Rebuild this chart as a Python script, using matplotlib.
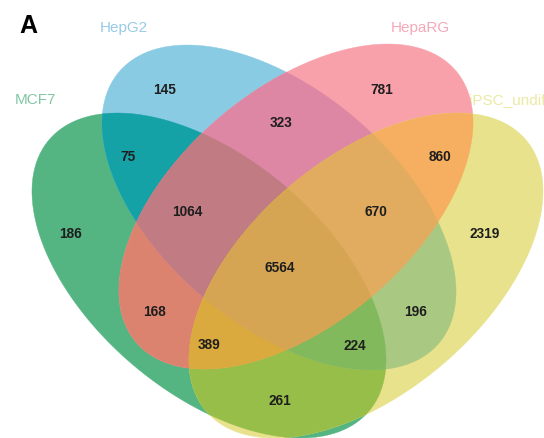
import itertools
import numpy as np
import matplotlib
matplotlib.use("Agg")
import matplotlib.pyplot as plt
from matplotlib.patches import Polygon

# ---- data -------------------------------------------------------------
set_names = ["MCF7", "HepG2", "HepaRG", "iPSC_undiff"]

# region membership (indices into set_names) and gene counts
region_sets = [
    (0,), (1,), (2,), (3,),
    (0, 1), (1, 2), (2, 3), (1, 3), (0, 3), (0, 2),
    (0, 1, 2), (1, 2, 3), (0, 2, 3), (0, 1, 3),
    (0, 1, 2, 3),
]
region_counts = [
    186, 145, 781, 2319,
    75, 323, 860, 196, 261, 168,
    1064, 670, 389, 224,
    6564,
]

# ---- styling ----------------------------------------------------------
region_colors = {
    (0,): "#54B482", (1,): "#8ACBE4", (2,): "#F8A1AB", (3,): "#E7E28B",
    (0, 1): "#14A2A6", (1, 2): "#DE87A4", (2, 3): "#F6AF60",
    (1, 3): "#A9C983", (0, 3): "#97BE49", (0, 2): "#DC8370",
    (0, 1, 2): "#C07B83", (1, 2, 3): "#E2AC60", (0, 2, 3): "#DAAA3E",
    (0, 1, 3): "#82B95D", (0, 1, 2, 3): "#D6A553",
}
label_colors = ["#82C6A3", "#98CBE7", "#F6A8B6", "#ECE9A2"]

# ellipse geometry in canvas pixels (y grows downwards)
centers = [(209.0, 275.5), (279.0, 207.5), (296.0, 206.5), (366.0, 275.5)]
semi_major, semi_minor = 209.7, 117.3
tilts = [40.3, 40.3, -40.3, -40.3]

# where each count is written
count_pos = {
    (0,): (70, 234), (1,): (165, 90), (2,): (382, 90), (3,): (485, 234),
    (0, 1): (128, 157), (1, 2): (281, 123), (2, 3): (440, 157),
    (1, 3): (416, 312), (0, 3): (280, 401), (0, 2): (154, 312),
    (0, 1, 2): (187, 212), (1, 2, 3): (376, 212), (0, 2, 3): (209, 345),
    (0, 1, 3): (355, 346), (0, 1, 2, 3): (280, 268),
}
label_pos = [(35, 100, "center"), (124, 28, "center"),
             (420, 28, "center"), (469, 100, "left")]


def ellipse_points(i, n=1440):
    t = np.linspace(0, 2 * np.pi, n, endpoint=False)
    cx, cy = centers[i]
    th = np.radians(tilts[i])
    x = cx + semi_major * np.cos(t) * np.cos(th) - semi_minor * np.sin(t) * np.sin(th)
    y = cy + semi_major * np.cos(t) * np.sin(th) + semi_minor * np.sin(t) * np.cos(th)
    return np.column_stack([x, y])


def inside(i, pts, tol=1e-9):
    cx, cy = centers[i]
    th = np.radians(tilts[i])
    dx, dy = pts[:, 0] - cx, pts[:, 1] - cy
    u = (dx * np.cos(th) + dy * np.sin(th)) / semi_major
    v = (-dx * np.sin(th) + dy * np.cos(th)) / semi_minor
    return u * u + v * v <= 1 + tol


def intersection_polygon(members):
    pts = []
    for i in members:
        p = ellipse_points(i)
        keep = np.ones(len(p), bool)
        for j in members:
            if j != i:
                keep &= inside(j, p, 1e-6)
        pts.append(p[keep])
    pts = np.vstack(pts)
    c = pts.mean(axis=0)
    order = np.argsort(np.arctan2(pts[:, 1] - c[1], pts[:, 0] - c[0]))
    return pts[order]


fig = plt.figure(figsize=(5.44, 4.38), dpi=100)
ax = fig.add_axes([0, 0, 1, 1])
ax.set_xlim(0, 544)
ax.set_ylim(438, 0)
ax.axis("off")

# set names sit underneath the shapes
for k, (x, y, ha) in enumerate(label_pos):
    ax.text(x, y, set_names[k], color=label_colors[k], fontsize=11,
            family=["Liberation Sans", "DejaVu Sans"], ha=ha, va="center",
            zorder=1)

# paint intersections from the widest to the narrowest
for size in range(1, 5):
    for members in itertools.combinations(range(4), size):
        poly = intersection_polygon(members)
        ax.add_patch(Polygon(poly, closed=True, facecolor=region_colors[members],
                             edgecolor=region_colors[members], linewidth=0.3,
                             zorder=2 + size))

for members, n in zip(region_sets, region_counts):
    x, y = count_pos[members]
    ax.text(x, y, str(n), fontsize=9.8, fontweight="bold", color="#1E1E1E",
            family=["Liberation Sans", "DejaVu Sans"], ha="center", va="center",
            zorder=10)

ax.text(28, 26, "A", fontsize=18, fontweight="bold", color="black",
        family=["Liberation Sans", "DejaVu Sans"], ha="center", va="center",
        zorder=10)

fig.savefig("out.png", dpi=100)
